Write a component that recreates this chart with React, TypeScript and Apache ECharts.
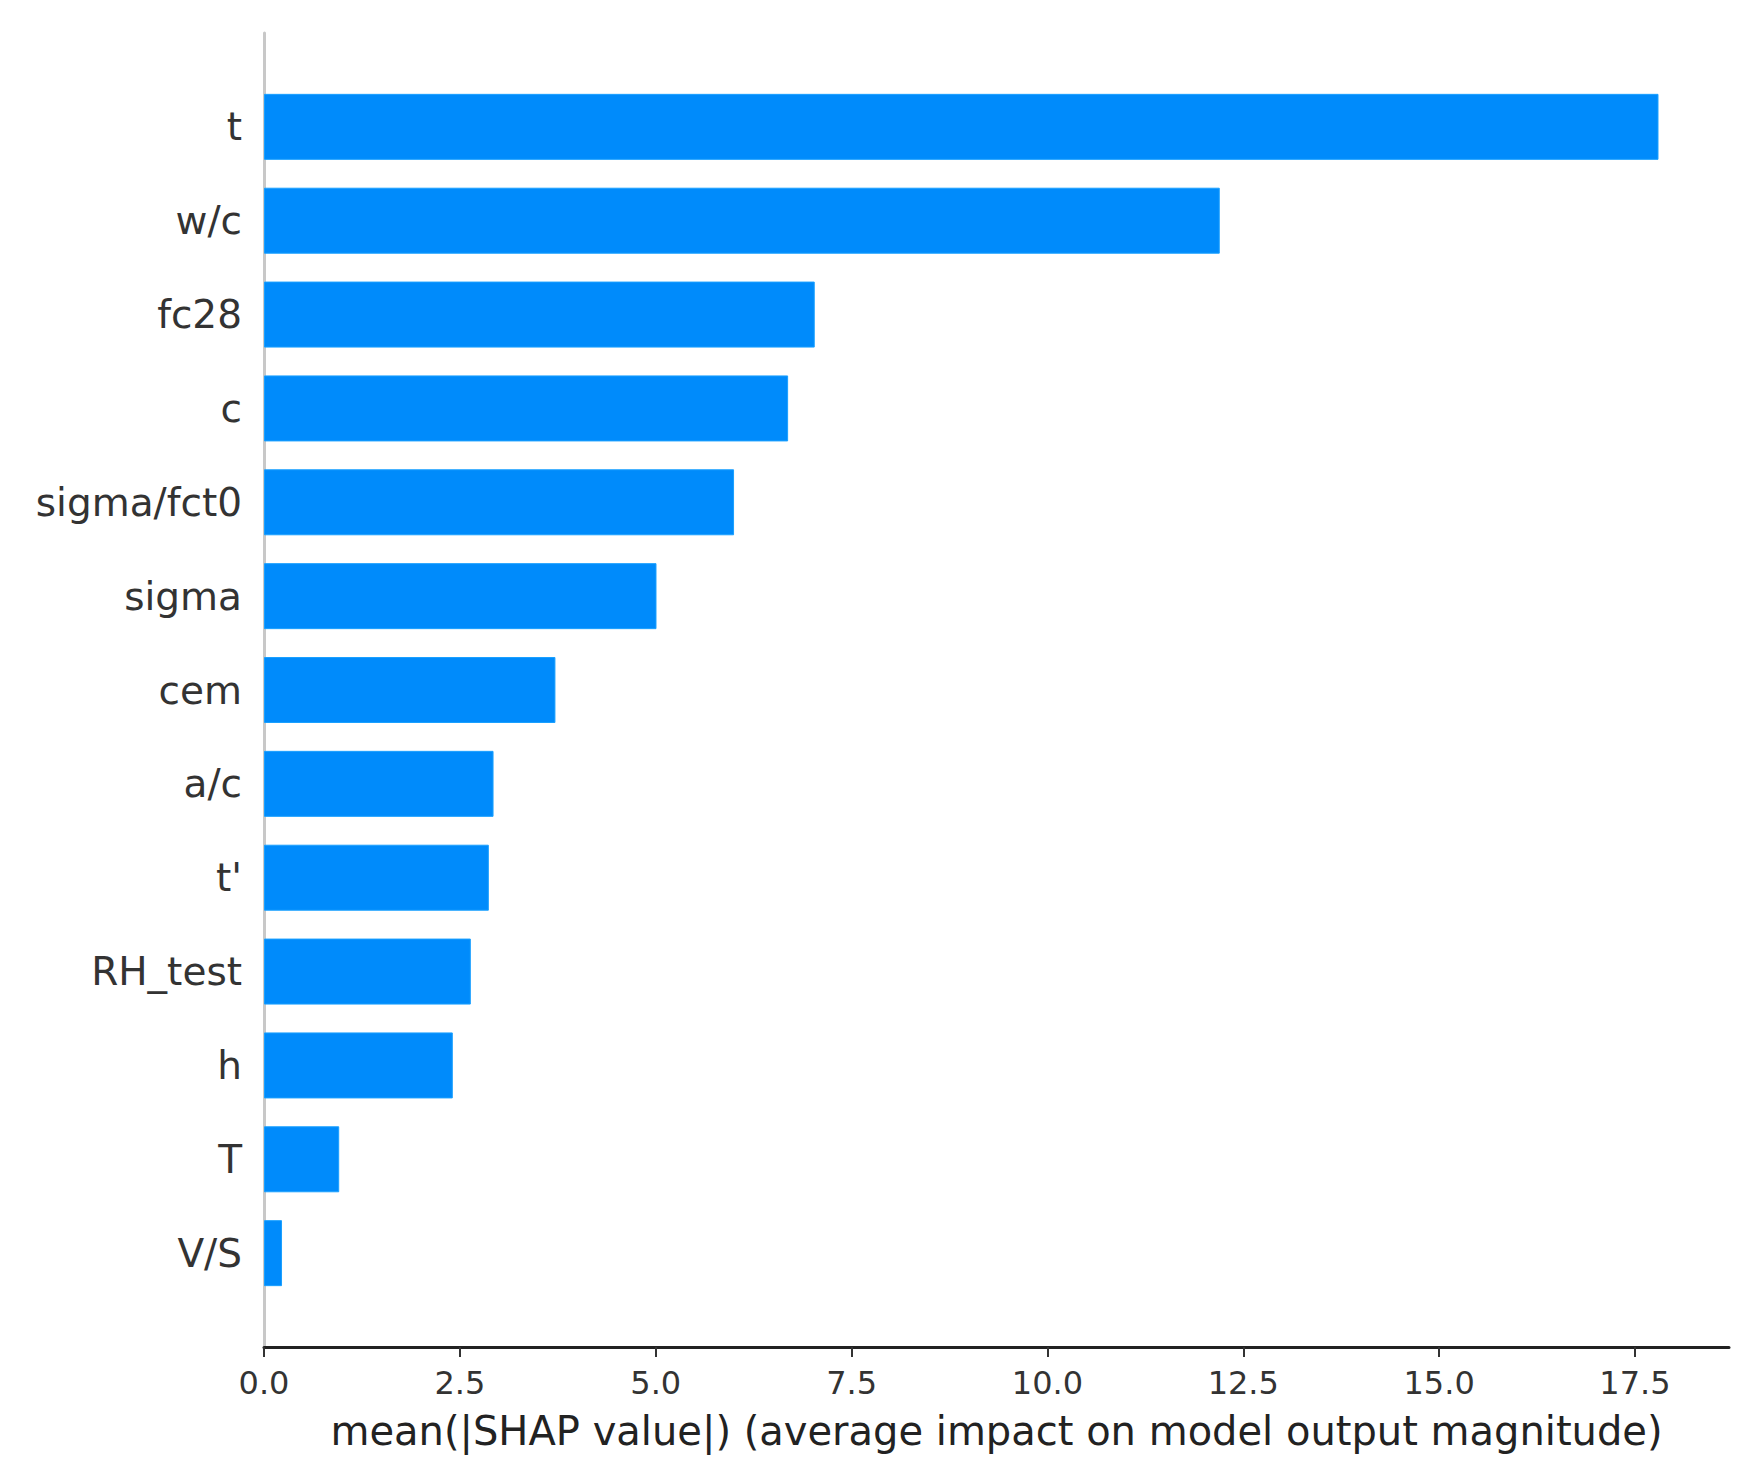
import React, { useEffect, useRef } from "react";
import * as echarts from "echarts";

const features = ["t", "w/c", "fc28", "c", "sigma/fct0", "sigma", "cem", "a/c", "t'", "RH_test", "h", "T", "V/S"];
const meanAbsShap = [17.8, 12.2, 7.03, 6.69, 6.0, 5.01, 3.72, 2.93, 2.87, 2.64, 2.41, 0.96, 0.23];
const xTicks = [0, 2.5, 5, 7.5, 10, 12.5, 15, 17.5];
const xAxisName = "mean(|SHAP value|) (average impact on model output magnitude)";

export default function App() {
  const ref = useRef<HTMLDivElement>(null);
  useEffect(() => {
    document.body.style.margin = "0";
    if (!ref.current) return;
    const chart = echarts.init(ref.current, null, { renderer: "svg" });
    const font = "DejaVu Sans";
    // pad categories with blank slots so the spine extends one band beyond the first/last bar
    const cats = ["", ...features, ""];
    const vals = [null, ...meanAbsShap, null];
    chart.setOption({
      animation: false,
      backgroundColor: "#ffffff",
      grid: { left: 264, right: 28, top: 33, bottom: 134, containLabel: false },
      xAxis: {
        type: "value",
        min: 0,
        max: 18.7,
        interval: 2.5,
        name: xAxisName,
        nameLocation: "middle",
        nameGap: 64,
        nameTextStyle: { fontFamily: font, fontSize: 40, color: "#222" },
        axisLine: { show: true, lineStyle: { color: "#222", width: 3 } },
        axisTick: { show: true, length: 10, lineStyle: { color: "#333", width: 2 }, customValues: xTicks },
        axisLabel: {
          fontFamily: font,
          fontSize: 32,
          color: "#333",
          margin: 20,
          customValues: xTicks,
          formatter: (v: number) => v.toFixed(1),
        },
        splitLine: { show: false },
      },
      yAxis: {
        type: "category",
        data: cats,
        inverse: true,
        boundaryGap: false,
        axisLine: { show: true, lineStyle: { color: "#c8c8c8", width: 3 } },
        axisTick: { show: false },
        axisLabel: { fontFamily: font, fontSize: 39, color: "#333", margin: 22, interval: 0 },
        splitLine: { show: false },
      },
      series: [
        {
          type: "bar",
          data: vals,
          barWidth: 66,
          itemStyle: { color: "#008bfb", borderColor: "#1aa0ff", borderWidth: 1 },
        },
      ],
    });
    return () => chart.dispose();
  }, []);
  return <div ref={ref} style={{ width: 1757, height: 1481 }} />;
}
